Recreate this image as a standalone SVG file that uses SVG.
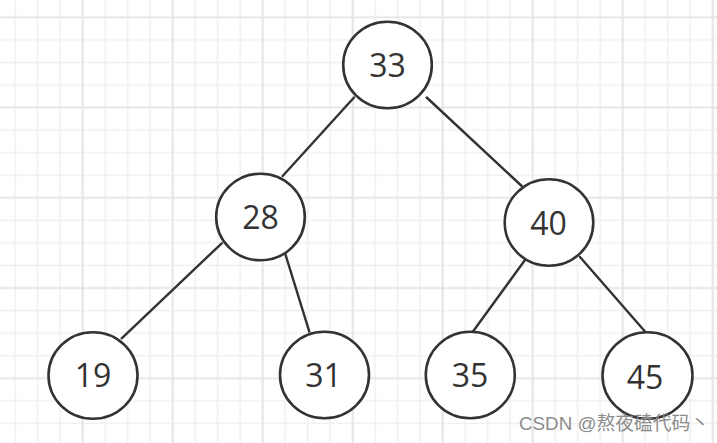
<svg xmlns="http://www.w3.org/2000/svg" width="717" height="443" viewBox="0 0 717 443">
<style>
.node ellipse{fill:#ffffff;stroke:#333333;stroke-width:2.6}
.node text{font-family:"Open Sans","Noto Sans","DejaVu Sans",sans-serif;font-size:32px;fill:#333333;text-anchor:middle}
.edges line{stroke:#333333;stroke-width:2.4;stroke-linecap:round}
.wm{font-family:"Liberation Sans","Noto Sans CJK SC",sans-serif;font-size:18.8px;fill:#8c8c8c}
</style>
<defs>
<pattern id="gMinor" x="3.95" y="6.02" width="22.5" height="22.56" patternUnits="userSpaceOnUse">
<path d="M11.25 0V22.56M0 11.28H22.5" stroke="#f0f0f0" stroke-width="1.6" fill="none"/>
</pattern>
<pattern id="gMajor" x="37.7" y="-27.82" width="90" height="90.24" patternUnits="userSpaceOnUse">
<path d="M45 0V90.24M0 45.12H90" stroke="#e4e4e4" stroke-width="1.6" fill="none"/>
</pattern>
</defs>
<rect width="717" height="443" fill="#ffffff"/>
<rect width="717" height="443" fill="url(#gMinor)"/>
<rect width="717" height="443" fill="url(#gMajor)"/>
<g class="edges" id="edges">
<line x1="354" y1="97.5" x2="282.7" y2="176"/>
<line x1="426.7" y1="97.5" x2="521.7" y2="186"/>
<line x1="221.7" y1="243.3" x2="121.7" y2="338.3"/>
<line x1="285" y1="253" x2="309.3" y2="331.7"/>
<line x1="525" y1="260" x2="473" y2="331.5"/>
<line x1="580" y1="257" x2="645" y2="331.5"/>
</g>
<g class="node" id="n33"><ellipse cx="387.5" cy="65" rx="44.3" ry="43.3"/><text x="387.5" y="76.5">33</text></g>
<g class="node" id="n28"><ellipse cx="260.5" cy="217" rx="44.3" ry="43.3"/><text x="260.5" y="228.5">28</text></g>
<g class="node" id="n40"><ellipse cx="549" cy="222.5" rx="44.3" ry="43.3"/><text x="548.5" y="235">40</text></g>
<g class="node" id="n19"><ellipse cx="93" cy="375.5" rx="44.5" ry="43.3"/><text x="93" y="387.3">19</text></g>
<g class="node" id="n31"><ellipse cx="324.5" cy="375" rx="44.5" ry="43.3"/><text x="323.5" y="387.3">31</text></g>
<g class="node" id="n35"><ellipse cx="470.3" cy="375" rx="44.5" ry="43.3"/><text x="470" y="387.3">35</text></g>
<g class="node" id="n45"><ellipse cx="647.5" cy="375.5" rx="45" ry="43.3"/><text x="645" y="388.5">45</text></g>
<text class="wm" x="519" y="430">CSDN @熬夜磕代码丶</text>
</svg>
